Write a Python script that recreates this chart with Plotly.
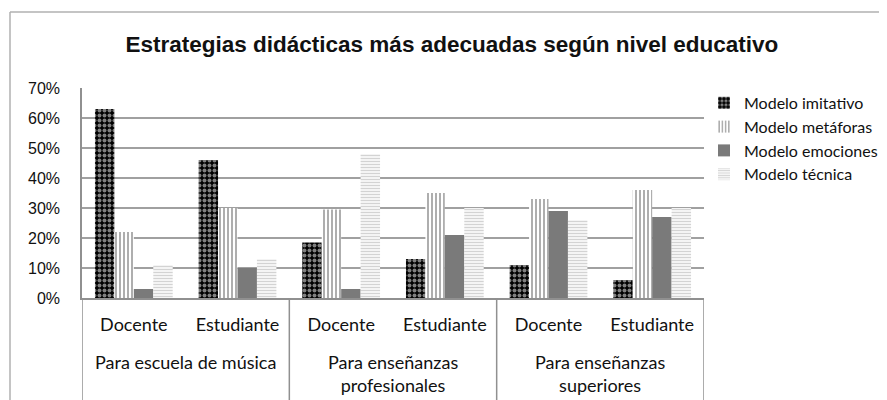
import plotly.graph_objects as go

niveles = ["Para escuela de música", "Para enseñanzas<br>profesionales", "Para enseñanzas<br>superiores"]
perfiles = ["Docente", "Estudiante"]

imitativo = [0.63, 0.46, 0.185, 0.13, 0.11, 0.06]
metaforas = [0.22, 0.30, 0.295, 0.35, 0.33, 0.36]
emociones = [0.03, 0.10, 0.03, 0.21, 0.29, 0.27]
tecnica = [0.11, 0.13, 0.48, 0.30, 0.26, 0.30]

series_names = ["Modelo imitativo", "Modelo metáforas", "Modelo emociones", "Modelo técnica"]

styles = [
    dict(color="black", pattern=dict(shape=".", fgcolor="white", bgcolor="black", size=5, solidity=0.5, fillmode="overlay")),
    dict(color="white", pattern=dict(shape="|", fgcolor="#333333", bgcolor="white", size=4, solidity=0.4, fillmode="overlay")),
    dict(color="#7a7a7a"),
    dict(color="white", pattern=dict(shape="-", fgcolor="#a8a8a8", bgcolor="white", size=3, solidity=0.5, fillmode="overlay")),
]

n_sub = len(perfiles)
n_cat = len(niveles) * n_sub
xpos = list(range(n_cat))
ticktext = perfiles * len(niveles)

fig = go.Figure()
for name, vals, st in zip(series_names, [imitativo, metaforas, emociones, tecnica], styles):
    fig.add_trace(go.Bar(
        x=xpos, y=vals, name=name,
        marker=dict(line=dict(width=0), **st),
    ))

W, H = 879, 392
L, T, R, B = 74, 80, 183, 102
PW, PH = W - L - R, H - T - B

fig.update_layout(
    width=W, height=H,
    paper_bgcolor="white", plot_bgcolor="white",
    margin=dict(l=L, r=R, t=T, b=B, autoexpand=False),
    barmode="group", bargap=0.25, bargroupgap=0,
    title=dict(text="<b>Estrategias didácticas más adecuadas según nivel educativo</b>",
               x=0.505, xanchor="center", y=0.908, yanchor="middle",
               font=dict(family="Liberation Sans", size=22.5, color="#111111")),
    legend=dict(x=1.0, y=1.01, xanchor="left", yanchor="top",
                font=dict(family="Lato", size=16, color="#111111"),
                itemwidth=30, tracegroupgap=0, bgcolor="rgba(0,0,0,0)"),
    showlegend=True,
)

fig.update_yaxes(
    range=[0, 0.7], dtick=0.1, tickformat=".0%",
    showgrid=True, gridcolor="#a0a0a0", gridwidth=1.5,
    showline=True, linecolor="#909090", linewidth=1.5,
    zeroline=False, ticks="", automargin=False,
    ticklabelstandoff=17,
    tickfont=dict(family="Liberation Sans", size=16, color="#111111"),
)
fig.update_xaxes(
    range=[-0.5, n_cat - 0.5], tickmode="array", tickvals=xpos, ticktext=ticktext,
    automargin=False, showgrid=False, zeroline=False,
    showline=True, linecolor="#909090", linewidth=1.5,
    ticks="", ticklabelstandoff=10,
    tickfont=dict(family="Lato", size=18, color="#111111"),
)

# group labels and dividers
y_bottom = -B / PH - 0.05
y_group = (T + PH - 341) / PH
for g, label in enumerate(niveles):
    fig.add_annotation(x=g * n_sub + (n_sub - 1) / 2, y=y_group,
                       xref="x", yref="paper", text=label, showarrow=False,
                       xanchor="center", yanchor="top",
                       font=dict(family="Lato", size=18, color="#111111"))
for g in range(len(niveles) + 1):
    xd = g * n_sub - 0.5
    fig.add_shape(type="line", xref="x", yref="paper", x0=xd, x1=xd, y0=0, y1=y_bottom,
                  line=dict(color="#909090", width=1.5))

# chart frame
fy = (PH + T - 4) / PH
fx = (2 - L) / PW
fig.add_shape(type="line", xref="paper", yref="paper",
              x0=fx, x1=(W - L) / PW, y0=fy, y1=fy,
              line=dict(color="#b0b0b0", width=1.5))
fig.add_shape(type="line", xref="paper", yref="paper",
              x0=fx, x1=fx, y0=fy, y1=y_bottom,
              line=dict(color="#b0b0b0", width=1.5))

fig.write_html("out.html")
